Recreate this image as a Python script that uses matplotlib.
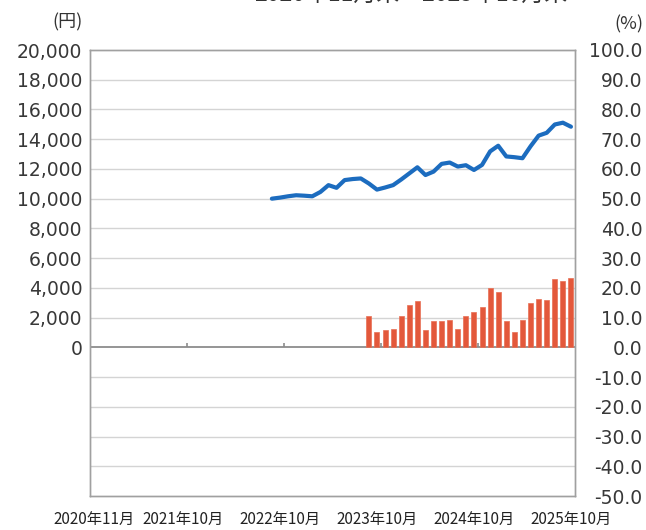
import matplotlib
matplotlib.use("Agg")
import matplotlib.pyplot as plt
import numpy as np
import pandas as pd

plt.rcParams['font.family'] = ['Noto Sans CJK JP', 'DejaVu Sans']

# Categories: monthly, 2020-11 .. 2025-10
months = [p for p in pd.period_range('2020-11', '2025-10', freq='M')]
month_labels = [f"{p.year}年{p.month}月" for p in months]
tick_months = ['2020-11', '2021-10', '2022-10', '2023-10', '2024-10', '2025-10']

# Line series (yen, left axis), 2022-09 .. 2025-10
line_start = '2022-09'
line_values = [10000, 10070, 10160, 10230, 10200, 10160, 10450, 10910, 10730, 11250,
               11320, 11360, 11020, 10610, 10750, 10910, 11290, 11700, 12110, 11590,
               11820, 12340, 12430, 12160, 12250, 11930, 12270, 13180, 13560, 12840,
               12790, 12720, 13520, 14240, 14430, 14990, 15110, 14840]

# Bar series (%, right axis), 2023-09 .. 2025-10
bar_start = '2023-09'
bar_values = [10.6, 5.0, 5.8, 6.1, 10.6, 14.4, 15.6, 5.8, 8.9, 8.7,
              9.1, 6.1, 10.6, 11.9, 13.6, 19.8, 18.7, 8.9, 5.0, 9.1,
              14.8, 16.1, 15.8, 23.1, 22.2, 23.3]

left_ticks = list(range(0, 20001, 2000))
right_ticks = list(range(-50, 101, 10))

W, H = 646, 530
fig = plt.figure(figsize=(W / 100, H / 100), dpi=100)
L, R, T, B = 90, 575, 50, 496
ax2 = fig.add_axes([L / W, 1 - B / H, (R - L) / W, (B - T) / H])
ax = ax2.twinx()

idx = {str(p): i for i, p in enumerate(months)}
bx = np.arange(len(bar_values)) + idx[bar_start]
lx = np.arange(len(line_values)) + idx[line_start]

ax2.set_ylim(-50, 100)
ax2.set_xlim(-0.5, len(months) - 0.5)
for v in right_ticks[1:-1]:
    ax2.axhline(v, color='#d4d4d4' if v != 0 else '#8c8c8c', lw=1.0 if v else 1.3, zorder=0)
ax2.bar(bx, bar_values, width=0.62, color='#e3583b', edgecolor='#e87055', linewidth=0.5, zorder=2)
for m in [11.5, 23.5, 35.5, 47.5]:
    ax2.vlines(m, 0, 1.4, color='#8c8c8c', lw=1.2, zorder=1)

ax.set_ylim(-10000, 20000)
ax.plot(lx, line_values, color='#1c6cbf', lw=3.0, solid_capstyle='round', solid_joinstyle='round', zorder=3)
ax.set_zorder(2)
ax.patch.set_visible(False)

ax.yaxis.tick_left()
ax.yaxis.set_label_position('left')
ax2.yaxis.tick_right()
ax.set_yticks(left_ticks)
ax.set_yticklabels([f"{v:,}" for v in left_ticks], family='DejaVu Sans')
ax2.set_yticks(right_ticks)
ax2.set_yticklabels([f"{v:.1f}" for v in right_ticks], family='DejaVu Sans')

ax.tick_params(axis='y', length=0, pad=5.5, labelsize=13.5, colors='#383838')
ax2.tick_params(axis='y', length=0, pad=48.5, labelsize=13.5, colors='#383838')
for lab in ax2.get_yticklabels():
    lab.set_horizontalalignment('right')
for a in (ax, ax2):
    for s in a.spines.values():
        s.set_color('#a0a0a0')
        s.set_linewidth(1.0)

ax2.set_xticks([idx[m] for m in tick_months])
ax2.set_xticklabels([month_labels[idx[m]] for m in tick_months])
ax2.tick_params(axis='x', length=0, pad=11, labelsize=11, colors='#222222')
ax.tick_params(axis='x', length=0, labelbottom=False)

fig.text(83 / W, 1 - 22 / H, '(円)', ha='right', va='center', fontsize=13, color='#333333')
fig.text(643 / W, 1 - 24 / H, '(%)', ha='right', va='center', fontsize=13, color='#333333')
fig.text(411 / W, 1 - 1 / H, '2020年11月末～2025年10月末', ha='center', va='baseline', fontsize=16.5, color='#333333')

fig.savefig('out.png', dpi=100, facecolor='white')
